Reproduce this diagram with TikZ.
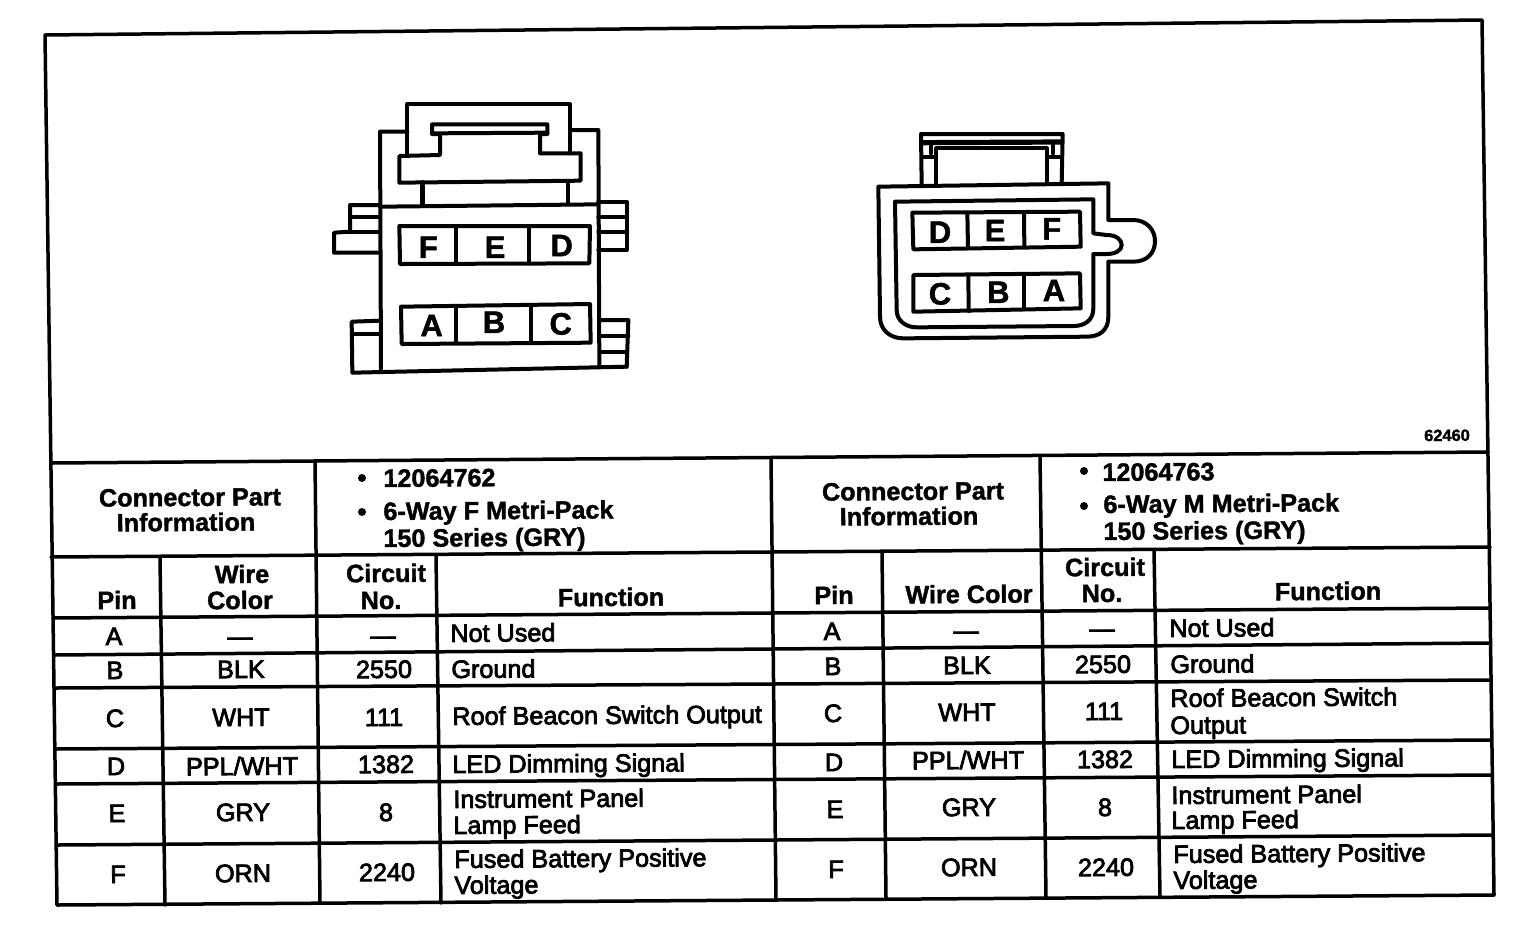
\documentclass[tikz,border=0pt]{standalone}
\usepackage{fontspec}
\setmainfont{Liberation Sans}
\newfontfamily\tblfont[FakeBold=3]{Liberation Sans}
\newfontfamily\hdrfont[FakeBold=1.5]{Liberation Sans Bold}
\newcommand{\cc}[4]{\node[cell] (#1) at (#2,#3) {#4};}
\newcommand{\lf}[4]{\node[cell,anchor=west] (#1) at (#2,#3) {#4};}
\newcommand{\hc}[4]{\node[head] (#1) at (#2,#3) {#4};}
\newcommand{\hl}[4]{\node[head,anchor=west] (#1) at (#2,#3) {#4};}
\newcommand{\pinl}[4]{\node[pinlet] (#1) at (#2,#3) {#4};}
\tikzset{
 cell/.style={inner sep=0pt,rotate=0.4,font=\tblfont\fontsize{12.6}{14}\selectfont,text height=9pt,text depth=0pt},
 head/.style={inner sep=0pt,rotate=0.4,font=\hdrfont\fontsize{12.6}{14}\selectfont,text height=9pt,text depth=0pt},
 pinlet/.style={inner sep=0pt,font=\hdrfont\fontsize{15.5}{18}\selectfont,text height=11.2pt,text depth=0pt},
 rule/.style={line width=1.75pt,line cap=round,line join=round},
 conn/.style={line width=2pt,line cap=round,line join=round},
 dot/.style={circle,fill=black,inner sep=0pt,minimum size=4pt},
}
\begin{document}
\begin{tikzpicture}[x=0.5pt,y=-0.5pt]
\path[use as bounding box,fill=white] (0,0) rectangle (1536,928);
% frame and table rules
\draw[rule] (45,35) -- (1482,20) -- (1494,895) -- (57,905) -- cycle;
\draw[rule] (51,463) -- (1488,452);
\draw[rule] (51,557) -- (1490,547);
\draw[rule] (53,618) -- (1490,608);
\draw[rule] (54,655) -- (1490,643);
\draw[rule] (55,688) -- (1490,680);
\draw[rule] (55,749) -- (1491,740);
\draw[rule] (56,784) -- (1491,775);
\draw[rule] (57,845) -- (1493,835);
\draw[rule] (160,558) -- (165,905);
\draw[rule] (315,461) -- (320,903);
\draw[rule] (436,556) -- (441,903);
\draw[rule] (771,458) -- (776,900);
\draw[rule] (882,552) -- (886,898);
\draw[rule] (1040,456) -- (1046,897);
\draw[rule] (1154,550) -- (1160,896);
% left connector (coordinates: 3x zoom)
\begin{scope}[shift={(320,90)},x=0.16667pt,y=-0.16667pt,conn]
\draw (262,195) -- (262,42) -- (750,42) -- (750,190);
\draw (262,125) -- (180,125) -- (183,845);
\draw (750,120) -- (835,120) -- (838,830);
\draw (360,195) -- (360,132) -- (336,132) -- (336,103) -- (682,103) -- (682,132) -- (660,132) -- (660,190) -- (782,190) -- (782,272) -- (238,278) -- (238,198) -- cycle;
\draw (336,130) -- (682,128);
\draw[line width=2.6pt] (308,278) -- (308,345);
\draw (743,275) -- (743,340);
\draw (180,350) -- (835,343);
\draw (180,345) -- (90,345) -- (90,425) -- (42,428) -- (42,488) -- (180,488);
\draw (90,382) -- (180,382);
\draw (90,425) -- (180,425);
\draw (835,335) -- (920,335) -- (920,480) -- (835,480);
\draw (835,382) -- (920,382);
\draw (835,425) -- (920,425);
\draw (180,692) -- (95,695) -- (97,848) -- (920,830);
\draw (95,733) -- (180,733);
\draw (838,690) -- (925,690) -- (920,830);
\draw (838,738) -- (925,738);
\draw (838,785) -- (920,785);
\draw (238,408) -- (810,408) -- (808,520) -- (240,522) -- cycle;
\draw (407,408) -- (407,521);
\draw (628,408) -- (628,520);
\draw (243,650) -- (810,642) -- (812,758) -- (245,762) -- cycle;
\draw (408,648) -- (408,760);
\draw (632,645) -- (632,758);
\pinl{lF}{325}{470}{F}
\pinl{lE}{525}{470}{E}
\pinl{lD}{725}{465}{D}
\pinl{lA}{335}{705}{A}
\pinl{lB}{522}{695}{B}
\pinl{lC}{722}{700}{C}
\end{scope}
% right connector
\begin{scope}[shift={(860,120)},x=0.16667pt,y=-0.16667pt,conn]
\draw (185,195) -- (183,42) -- (608,42) -- (605,190);
\draw[line width=2.6pt] (185,68) -- (605,66);
\draw (228,190) -- (228,85) -- (560,85) -- (560,190);
\draw (190,112) -- (228,112);
\draw (565,112) -- (605,112);
\draw (212,75) -- (212,100);
\draw (578,70) -- (578,100);
\draw (55,200) -- (745,190) -- (745,300) -- (820,300) .. controls (860,300) and (885,330) .. (885,363) .. controls (885,400) and (860,425) .. (820,425) -- (745,425) -- (745,590) .. controls (745,630) and (720,650) .. (680,650) -- (130,655) .. controls (90,655) and (60,630) .. (60,590) -- cycle;
\draw (105,245) -- (700,238) -- (700,340) -- (740,345) .. controls (770,345) and (785,360) .. (785,375) .. controls (785,392) and (765,402) .. (740,402) -- (700,402) -- (700,565) .. controls (700,600) and (675,618) .. (640,618) -- (170,622) .. controls (135,622) and (110,600) .. (110,570) -- cycle;
\draw (157,278) -- (660,275) -- (662,380) -- (160,388) -- cycle;
\draw (322,278) -- (324,385);
\draw (492,276) -- (493,381);
\draw (160,465) -- (660,460) -- (662,565) -- (160,575) -- cycle;
\draw (325,465) -- (326,573);
\draw (492,462) -- (492,568);
\pinl{rD}{240}{335}{D}
\pinl{rE}{405}{330}{E}
\pinl{rF}{575}{325}{F}
\pinl{rC}{240}{520}{C}
\pinl{rB}{415}{515}{B}
\pinl{rA}{582}{510}{A}
\end{scope}
\node[head,font=\hdrfont\fontsize{8.2}{10}\selectfont,text height=6pt] (fig) at (1447,435) {62460};
% left header
\hc{a1}{190}{497}{Connector Part}
\hc{a2}{186}{522}{Information}
\node[dot] (a3) at (362,478) {};
\hl{a4}{383}{478}{12064762}
\node[dot] (a5) at (362,512) {};
\hl{a6}{383}{511}{6-Way F Metri-Pack}
\hl{a7}{383}{538}{150 Series (GRY)}
% right header
\hc{b1}{913}{491}{Connector Part}
\hc{b2}{909}{516}{Information}
\node[dot] (b3) at (1084,471) {};
\hl{b4}{1102}{472}{12064763}
\node[dot] (b5) at (1084,506) {};
\hl{b6}{1103}{504}{6-Way M Metri-Pack}
\hl{b7}{1103}{531}{150 Series (GRY)}
% column heads
\hc{c1}{117}{600}{Pin}
\hc{c2}{242}{574}{Wire}
\hc{c3}{240}{600}{Color}
\hc{c4}{386}{573}{Circuit}
\hc{c5}{381}{600}{No.}
\hc{c6}{611}{597}{Function}
\hc{d1}{834}{595}{Pin}
\hc{d2}{969}{594}{Wire Color}
\hc{d4}{1105}{567}{Circuit}
\hc{d5}{1102}{593}{No.}
\hc{d6}{1328}{591}{Function}
% left rows
\cc{e1}{114}{636}{A}\cc{e2}{240}{636}{—}\cc{e3}{383}{635}{—}\lf{e4}{450}{633}{Not Used}
\cc{f1}{115}{670}{B}\cc{f2}{241}{669}{BLK}\cc{f3}{384}{669}{2550}\lf{f4}{451}{669}{Ground}
\cc{g1}{115}{718}{C}\cc{g2}{241}{717}{WHT}\cc{g3}{384}{717}{111}\lf{g4}{452}{716}{Roof Beacon Switch Output}
\cc{h1}{116}{766}{D}\cc{h2}{242}{766}{PPL/WHT}\cc{h3}{386}{764}{1382}\lf{h4}{452}{764}{LED Dimming Signal}
\cc{i1}{117}{813}{E}\cc{i2}{243}{812}{GRY}\cc{i3}{386}{812}{8}\lf{i4}{453}{799}{Instrument Panel}\lf{i5}{453}{825}{Lamp Feed}
\cc{j1}{118}{874}{F}\cc{j2}{243}{873}{ORN}\cc{j3}{387}{872}{2240}\lf{j4}{454}{859}{Fused Battery Positive}\lf{j5}{454}{885}{Voltage}
% right rows
\cc{k1}{832}{631}{A}\cc{k2}{966}{630}{—}\cc{k3}{1102}{628}{—}\lf{k4}{1169}{628}{Not Used}
\cc{l1}{833}{666}{B}\cc{l2}{967}{665}{BLK}\cc{l3}{1103}{664}{2550}\lf{l4}{1170}{664}{Ground}
\cc{m1}{833}{713}{C}\cc{m2}{967}{712}{WHT}\cc{m3}{1104}{711}{111}\lf{m4}{1170}{698}{Roof Beacon Switch}\lf{m5}{1170}{725}{Output}
\cc{n1}{834}{762}{D}\cc{n2}{968}{760}{PPL/WHT}\cc{n3}{1105}{759}{1382}\lf{n4}{1171}{759}{LED Dimming Signal}
\cc{o1}{835}{809}{E}\cc{o2}{969}{807}{GRY}\cc{o3}{1105}{807}{8}\lf{o4}{1171}{795}{Instrument Panel}\lf{o5}{1171}{820}{Lamp Feed}
\cc{p1}{836}{869}{F}\cc{p2}{969}{867}{ORN}\cc{p3}{1106}{867}{2240}\lf{p4}{1173}{854}{Fused Battery Positive}\lf{p5}{1173}{880}{Voltage}
\end{tikzpicture}
\end{document}
